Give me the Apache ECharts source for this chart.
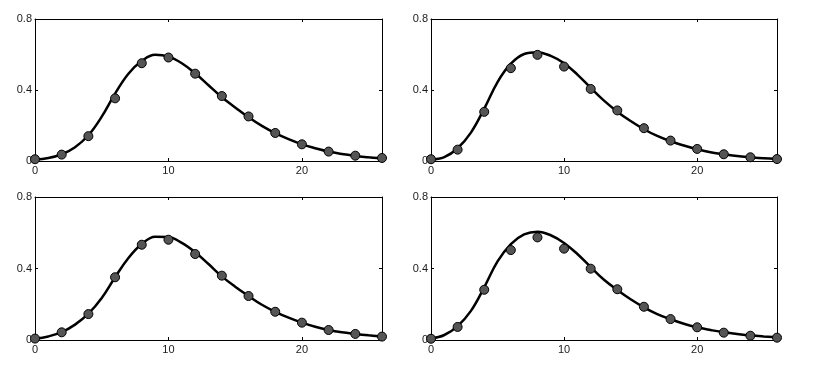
<!DOCTYPE html>
<html>
<head>
<meta charset="utf-8">
<script src="https://cdn.jsdelivr.net/npm/echarts@6/dist/echarts.min.js"></script>
<style>
  html, body { margin: 0; padding: 0; background: #fff; }
  #chart { width: 817px; height: 376px; }
</style>
</head>
<body>
<div id="chart"></div>
<script>
// sample points (every 2 units) and fitted curve (every unit)
const dotX = [0, 2, 4, 6, 8, 10, 12, 14, 16, 18, 20, 22, 24, 26];
const curveX = [0, 1, 2, 3, 4, 5, 6, 7, 8, 9, 10, 11, 12, 13, 14, 15, 16, 17, 18, 19, 20, 21, 22, 23, 24, 25, 26];

const dotsA = [0.01, 0.036, 0.140, 0.353, 0.551, 0.583, 0.492, 0.366, 0.251, 0.158, 0.094, 0.053, 0.030, 0.017];
const curveA = [0.008, 0.017, 0.038, 0.078, 0.145, 0.25, 0.38, 0.492, 0.563, 0.598, 0.588, 0.551, 0.494, 0.427, 0.359, 0.302, 0.246, 0.198, 0.157, 0.123, 0.094, 0.072, 0.053, 0.040, 0.028, 0.021, 0.015];

const dotsB = [0.01, 0.064, 0.277, 0.523, 0.598, 0.532, 0.406, 0.285, 0.185, 0.115, 0.068, 0.038, 0.021, 0.011];
const curveB = [0.008, 0.022, 0.072, 0.16, 0.295, 0.445, 0.548, 0.603, 0.613, 0.592, 0.551, 0.487, 0.412, 0.340, 0.278, 0.225, 0.179, 0.141, 0.111, 0.087, 0.066, 0.049, 0.038, 0.028, 0.021, 0.015, 0.011];

const dotsC = [0.008, 0.043, 0.145, 0.351, 0.533, 0.561, 0.481, 0.360, 0.246, 0.158, 0.097, 0.056, 0.034, 0.019];
const curveC = [0.007, 0.02, 0.044, 0.086, 0.147, 0.235, 0.351, 0.459, 0.537, 0.578, 0.576, 0.543, 0.491, 0.425, 0.356, 0.298, 0.246, 0.197, 0.158, 0.125, 0.097, 0.074, 0.056, 0.043, 0.034, 0.026, 0.019];

const dotsD = [0.007, 0.073, 0.281, 0.503, 0.574, 0.511, 0.399, 0.284, 0.186, 0.117, 0.071, 0.041, 0.024, 0.013];
const curveD = [0.008, 0.028, 0.078, 0.163, 0.295, 0.44, 0.537, 0.591, 0.606, 0.586, 0.543, 0.481, 0.408, 0.337, 0.280, 0.228, 0.183, 0.145, 0.116, 0.091, 0.071, 0.056, 0.043, 0.034, 0.026, 0.02, 0.015];

const xMax = 26;
const xStep = 10;
const yMax = 0.8;
const yStep = 0.4;

const panels = [
    { dots: dotsA, curve: curveA, left: 35, top: 19, width: 347, height: 142 },
    { dots: dotsB, curve: curveB, left: 431, top: 19, width: 346, height: 142 },
    { dots: dotsC, curve: curveC, left: 35, top: 197, width: 347, height: 143 },
    { dots: dotsD, curve: curveD, left: 431, top: 197, width: 346, height: 143 }
];

const labelStyle = { color: '#1a1a1a', fontSize: 11, fontFamily: 'Liberation Sans, Arial, sans-serif' };
const lineStyle = { color: '#000', width: 1 };
const tickStyle = { show: true, inside: true, length: 3, lineStyle: { color: '#000', width: 1 } };

const chart = echarts.init(document.getElementById('chart'));

const grid = [];
const xAxis = [];
const yAxis = [];
const series = [];

panels.forEach((p, i) => {
    grid.push({ left: p.left, top: p.top, width: p.width, height: p.height });

    // bottom + top x axes
    xAxis.push({
        type: 'value', gridIndex: i, position: 'bottom', min: 0, max: xMax, interval: xStep,
        axisLine: { show: true, onZero: false, lineStyle },
        axisTick: tickStyle,
        axisLabel: Object.assign({ margin: 4, formatter: v => (v % xStep === 0 ? String(v) : '') }, labelStyle),
        splitLine: { show: false }
    });
    xAxis.push({
        type: 'value', gridIndex: i, position: 'top', min: 0, max: xMax, interval: xStep,
        axisLine: { show: true, onZero: false, lineStyle },
        axisTick: tickStyle,
        axisLabel: { show: false },
        splitLine: { show: false }
    });

    // left + right y axes
    yAxis.push({
        type: 'value', gridIndex: i, position: 'left', min: 0, max: yMax, interval: yStep,
        axisLine: { show: true, onZero: false, lineStyle },
        axisTick: tickStyle,
        axisLabel: Object.assign({ margin: 3 }, labelStyle),
        splitLine: { show: false }
    });
    yAxis.push({
        type: 'value', gridIndex: i, position: 'right', min: 0, max: yMax, interval: yStep,
        axisLine: { show: true, onZero: false, lineStyle },
        axisTick: tickStyle,
        axisLabel: { show: false },
        splitLine: { show: false }
    });

    series.push({
        type: 'line',
        xAxisIndex: i * 2, yAxisIndex: i * 2,
        data: curveX.map((x, k) => [x, p.curve[k]]),
        smooth: 0.4,
        showSymbol: false,
        lineStyle: { color: '#000', width: 2.5 },
        clip: true,
        z: 2
    });
    series.push({
        type: 'scatter',
        xAxisIndex: i * 2, yAxisIndex: i * 2,
        data: dotX.map((x, k) => [x, p.dots[k]]),
        symbolSize: 9,
        itemStyle: { color: '#555', borderColor: '#000', borderWidth: 1, opacity: 1 },
        clip: false,
        z: 3
    });
});

chart.setOption({
    animation: false,
    backgroundColor: '#fff',
    grid,
    xAxis,
    yAxis,
    series
});
</script>
</body>
</html>
